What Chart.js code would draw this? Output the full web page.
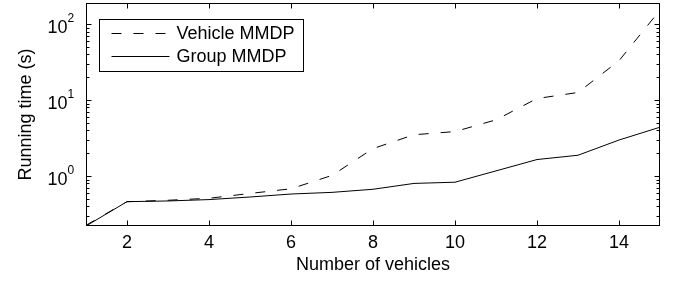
<!DOCTYPE html>
<html>
<head>
<meta charset="utf-8">
<script src="https://cdn.jsdelivr.net/npm/chart.js@4"></script>
<style>
  html, body { margin: 0; padding: 0; background: #fff; }
  #wrap { width: 678px; height: 281px; }
</style>
</head>
<body>
<div id="wrap"><canvas id="runChart" width="678" height="281"></canvas></div>
<script>
// Running time vs number of vehicles (log scale)
const vehicles = [1, 2, 3, 4, 5, 6, 7, 8, 9, 10, 11, 12, 13, 14, 15];
const vehicleMMDP = [0.225, 0.46, 0.48, 0.51, 0.59, 0.68, 1.02, 2.3, 3.5, 3.85, 5.5, 10.5, 12.6, 33, 153];
const groupMMDP = [0.22, 0.46, 0.47, 0.49, 0.53, 0.58, 0.61, 0.67, 0.80, 0.83, 1.17, 1.65, 1.88, 2.98, 4.4];
const xTicks = [2, 4, 6, 8, 10, 12, 14];
const yTicks = [1, 10, 100];

const FONT = 'Liberation Sans, Arial, Helvetica, sans-serif';

function line(ctx, x1, y1, x2, y2) {
    ctx.beginPath();
    ctx.moveTo(x1, y1);
    ctx.lineTo(x2, y2);
    ctx.stroke();
}

// box, inward ticks, superscript y labels, legend (MATLAB look)
const matlabFrame = {
    id: 'matlabFrame',
    afterDatasetsDraw(chart) {
        const { ctx, chartArea: a, scales: { x, y } } = chart;
        ctx.save();
        ctx.strokeStyle = '#000';
        ctx.lineWidth = 1;
        const L = Math.round(a.left) + 0.5, R = Math.round(a.right) - 0.5;
        const T = Math.round(a.top) + 0.5, B = Math.round(a.bottom) - 0.5;
        ctx.strokeRect(L, T, R - L, B - T);

        xTicks.forEach(v => {
            const px = Math.round(x.getPixelForValue(v)) + 0.5;
            line(ctx, px, B, px, B - 5);
            line(ctx, px, T, px, T + 5);
        });

        for (let d = -1; d <= 3; d++) {
            for (let m = 1; m <= 9; m++) {
                const v = m * Math.pow(10, d);
                if (v < y.min || v > y.max) continue;
                const py = Math.round(y.getPixelForValue(v)) + 0.5;
                const len = m === 1 ? 5 : 3;
                line(ctx, L, py, L + len, py);
                line(ctx, R, py, R - len, py);
            }
        }

        // y labels 10^n
        ctx.fillStyle = '#000';
        yTicks.forEach(v => {
            const py = y.getPixelForValue(v);
            const exp = String(Math.round(Math.log10(v)));
            ctx.textBaseline = 'middle';
            ctx.font = '12px ' + FONT;
            ctx.textAlign = 'left';
            ctx.fillText(exp, L - 19, py - 5);
            ctx.font = '18px ' + FONT;
            ctx.textAlign = 'right';
            ctx.fillText('10', L - 19, py + 3.5);
        });

        // legend
        const lx = L + 13, ly = T + 16, lw = 204, lh = 52;
        ctx.fillStyle = '#fff';
        ctx.fillRect(lx, ly, lw, lh);
        ctx.strokeRect(lx, ly, lw, lh);
        chart.data.datasets.forEach((ds, i) => {
            const ry = Math.round(ly + 13 + i * 23.5) + 0.5;
            ctx.setLineDash(ds.borderDash || []);
            line(ctx, lx + 12, ry, lx + 70, ry);
            ctx.setLineDash([]);
            ctx.fillStyle = '#000';
            ctx.font = '18px ' + FONT;
            ctx.textAlign = 'left';
            ctx.textBaseline = 'middle';
            ctx.fillText(ds.label, lx + 77, ry + 1);
        });
        ctx.restore();
    }
};

new Chart(document.getElementById('runChart'), {
    type: 'line',
    data: {
        datasets: [
            {
                label: 'Vehicle MMDP',
                data: vehicles.map((v, i) => ({ x: v, y: vehicleMMDP[i] })),
                borderColor: '#000',
                borderWidth: 1,
                borderDash: [10, 12],
                pointRadius: 0,
                tension: 0
            },
            {
                label: 'Group MMDP',
                data: vehicles.map((v, i) => ({ x: v, y: groupMMDP[i] })),
                borderColor: '#000',
                borderWidth: 1,
                pointRadius: 0,
                tension: 0
            }
        ]
    },
    options: {
        responsive: false,
        animation: false,
        devicePixelRatio: 1,
        layout: { padding: { top: 3, right: 18, left: 0, bottom: 0 } },
        plugins: { legend: { display: false }, tooltip: { enabled: false } },
        scales: {
            x: {
                type: 'linear',
                min: 1,
                max: 15,
                grid: { display: false },
                border: { display: false },
                afterBuildTicks: s => { s.ticks = xTicks.map(v => ({ value: v })); },
                afterFit: s => { s.height = 55; },
                ticks: { color: '#000', font: { family: FONT, size: 18 }, padding: -2, maxRotation: 0 },
                title: { display: true, text: 'Number of vehicles', color: '#000', font: { family: FONT, size: 18 }, padding: { top: 0, bottom: 5 } }
            },
            y: {
                type: 'logarithmic',
                min: 0.22,
                max: 190,
                grid: { display: false },
                border: { display: false },
                ticks: { display: false },
                afterFit: s => { s.width = 86; },
                title: { display: true, text: 'Running time (s)', color: '#000', font: { family: FONT, size: 18 }, padding: { top: 15, bottom: 0 } }
            }
        }
    },
    plugins: [matlabFrame]
});
</script>
</body>
</html>
